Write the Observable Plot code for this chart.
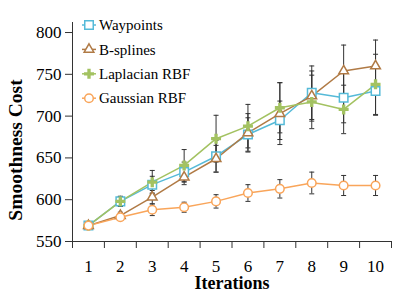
<!DOCTYPE html>
<html>
<head>
<meta charset="utf-8">
<script src="https://cdn.jsdelivr.net/npm/d3@7"></script>
<script src="https://cdn.jsdelivr.net/npm/@observablehq/plot@0.6"></script>
<style>
  html, body { margin: 0; padding: 0; background: #fff; }
  #wrap { position: relative; width: 399px; height: 293px; }
  #legend { position: absolute; left: 0; top: 0; pointer-events: none; }
</style>
</head>
<body>
<div id="wrap"></div>
<script>
// ---- data ----
const iterations = [1, 2, 3, 4, 5, 6, 7, 8, 9, 10];
const waypoints     = [569, 598, 618, 633, 652, 678, 695, 728, 722, 730];
const waypointsErr  = [0, 6, 10, 12, 19, 20, 23, 32, 30, 29];
const bsplines      = [569, 581, 603, 627, 649, 680, 703, 724, 754, 760];
const bsplinesErr   = [0, 4, 8, 9, 16, 23, 37, 30, 31, 31];
const laplacian     = [569, 598, 621, 641, 673, 688, 710, 717, 708, 738];
const laplacianErr  = [0, 6, 14, 19, 28, 26, 30, 32, 29, 36];
const gaussian      = [569, 579, 588, 591, 598, 608, 613, 620, 617, 617];
const gaussianErr   = [0, 3, 7, 6, 8, 10, 11, 13, 12, 12];
const seriesNames   = ["Waypoints", "B-splines", "Laplacian RBF", "Gaussian RBF"];
const yTicks        = [550, 600, 650, 700, 750, 800];
const xTickMarks    = [0.5, 1.5, 2.5, 3.5, 4.5, 5.5, 6.5, 7.5, 8.5, 9.5, 10.5];
const xLabel = "Iterations";
const yLabel = "Smoothness Cost";

// ---- styles ----
const styles = [
  {color: "#55bad8", symbol: "square",   r: 4.8, fill: "white"},
  {color: "#b07a45", symbol: "triangle", r: 3.6, fill: "white"},
  {color: "#a3c261", symbol: "cross",    r: 4.2, fill: "#a3c261"},
  {color: "#f9a55a", symbol: "circle",   r: 4.3, fill: "white"}
];
const values = [waypoints, bsplines, laplacian, gaussian];
const errs = [waypointsErr, bsplinesErr, laplacianErr, gaussianErr];

const tables = values.map((vals, s) => iterations.map((it, i) => ({
  iter: it, value: vals[i], err: errs[s][i], lo: vals[i] - errs[s][i], hi: vals[i] + errs[s][i], series: seriesNames[s]
})));

const capSymbol = {draw(ctx) { ctx.moveTo(-2.5, 0); ctx.lineTo(2.5, 0); }};

const errMarks = tables.flatMap(t => {
  const d = t.filter(r => r.err > 0);
  return [
    Plot.ruleX(d, {x: "iter", y1: "lo", y2: "hi", stroke: "#333", strokeWidth: 1}),
    Plot.dot(d, {x: "iter", y: "lo", symbol: capSymbol, stroke: "#333", strokeWidth: 1, r: 3}),
    Plot.dot(d, {x: "iter", y: "hi", symbol: capSymbol, stroke: "#333", strokeWidth: 1, r: 3})
  ];
});

const seriesMarks = tables.flatMap((t, s) => [
  Plot.line(t, {x: "iter", y: "value", stroke: styles[s].color, strokeWidth: 1.5})
]).concat(tables.flatMap((t, s) => [
  Plot.dot(t, {x: "iter", y: "value", symbol: styles[s].symbol, r: styles[s].r,
    fill: styles[s].fill, stroke: styles[s].symbol === "cross" ? "none" : styles[s].color, strokeWidth: 1.5})
]));

const chart = Plot.plot({
  width: 399, height: 293,
  marginLeft: 72, marginRight: 8, marginTop: 22, marginBottom: 52,
  style: {fontFamily: "'Liberation Serif', serif", fontSize: "17px", background: "white", color: "black"},
  x: {domain: [0.5, 10.5]},
  y: {domain: [550, 812]},
  marks: [
    Plot.axisY(yTicks, {tickSize: 7, tickPadding: 4, label: null, stroke: "#333"}),
    Plot.axisX(xTickMarks, {tickSize: 7, tickFormat: () => "", label: null, stroke: "#333"}),
    Plot.axisX(iterations, {tickSize: 0, tickPadding: 18, label: null}),
    Plot.ruleX([0.5], {stroke: "#333"}),
    Plot.ruleY([550], {stroke: "#333"}),
    ...errMarks,
    ...seriesMarks,
    Plot.text([yLabel], {frameAnchor: "left", textAnchor: "middle", lineAnchor: "middle", rotate: -90, dx: -57, dy: 18, fontWeight: "bold", fontSize: 19.5, fill: "black"}),
    Plot.text([xLabel], {frameAnchor: "bottom", textAnchor: "middle", lineAnchor: "middle", dy: 42, fontWeight: "bold", fontSize: 18, fill: "black"})
  ]
});
document.getElementById("wrap").appendChild(chart);

// ---- legend ----
const leg = d3.select("#wrap").append("svg").attr("id", "legend").attr("width", 399).attr("height", 293);
const symMap = {square: d3.symbolSquare, triangle: d3.symbolTriangle, cross: d3.symbolCross, circle: d3.symbolCircle};
seriesNames.forEach((name, s) => {
  const g = leg.append("g").attr("transform", `translate(89,${25 + s * 24.4})`);
  g.append("line").attr("x1", -7).attr("x2", 7).attr("stroke", styles[s].color).attr("stroke-width", 1.5);
  g.append("path").attr("d", d3.symbol(symMap[styles[s].symbol], styles[s].r * styles[s].r * Math.PI)())
    .attr("fill", styles[s].fill).attr("stroke", styles[s].symbol === "cross" ? "none" : styles[s].color).attr("stroke-width", 1.5);
  g.append("text").attr("x", 10).attr("dy", "0.35em").attr("font-family", "'Liberation Serif', serif")
    .attr("font-size", 15).attr("fill", "black").text(name);
});
</script>
</body>
</html>
